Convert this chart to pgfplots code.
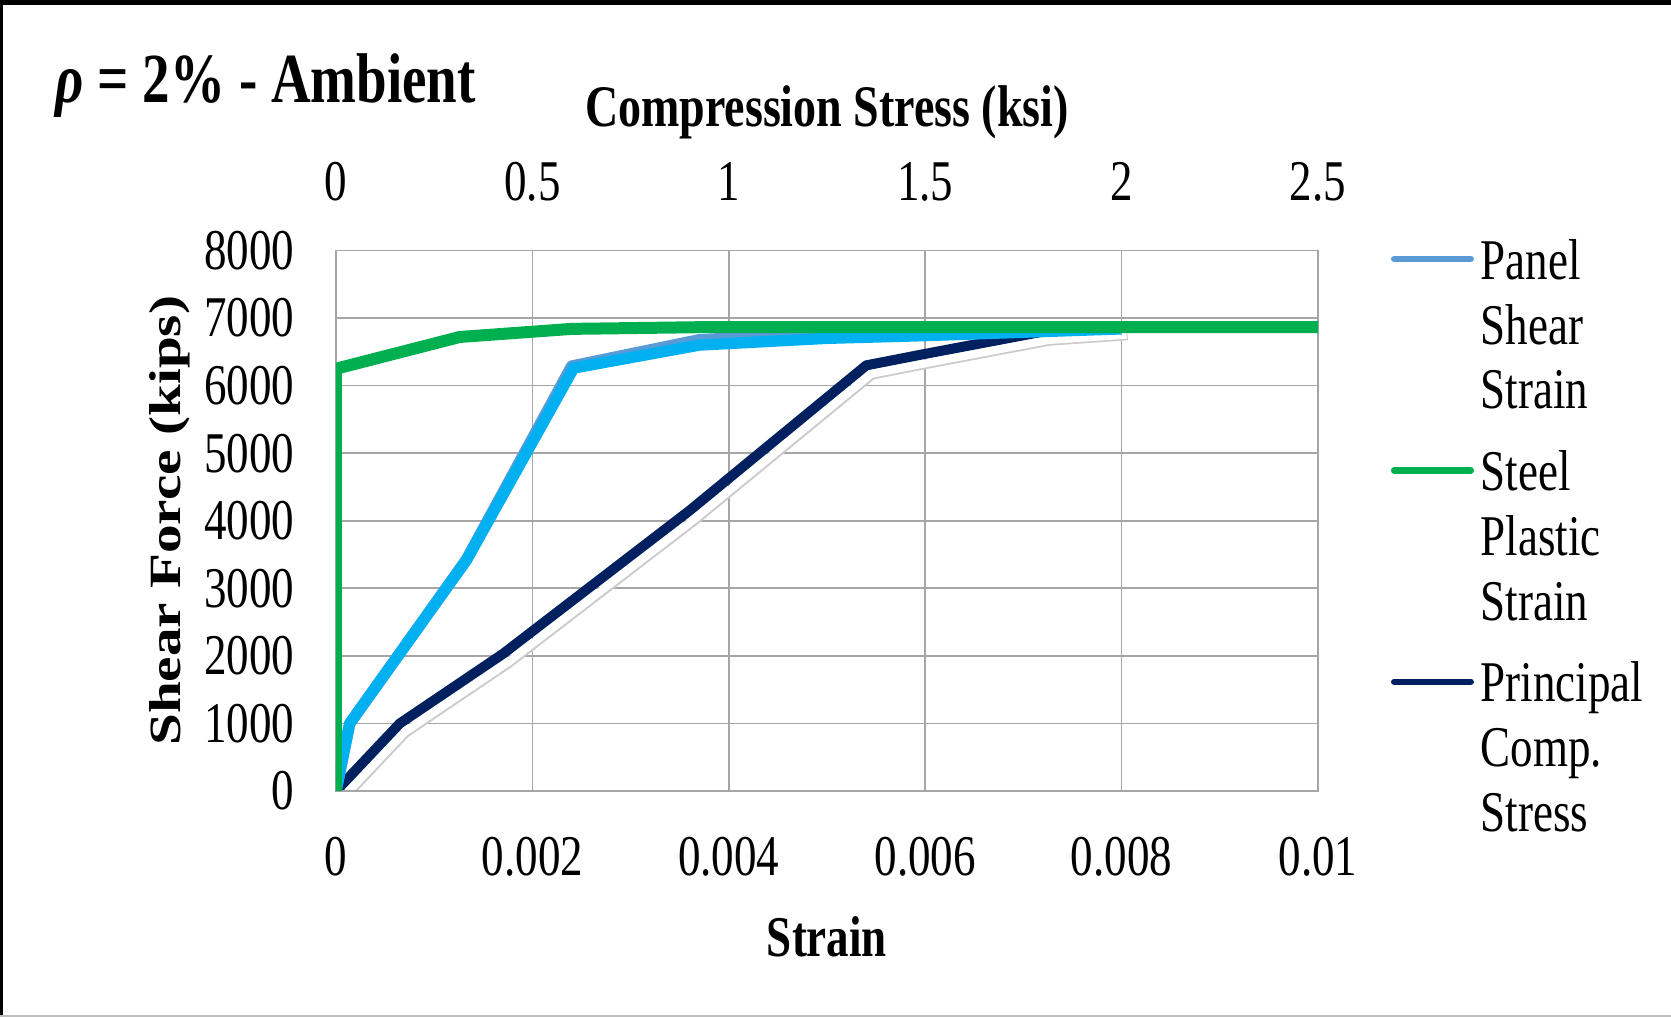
\documentclass[border=0pt]{standalone}
\usepackage{fontspec}
\setmainfont{Liberation Serif}
\usepackage{graphicx}
\usepackage{pgfplots}
\pgfplotsset{compat=1.18}

% the reference text is stretched vertically
\newcommand{\st}[1]{\scalebox{1}[1.28]{#1}}

\definecolor{panelblue}{HTML}{5B9BD5}
\definecolor{panelcyan}{HTML}{00B0F0}
\definecolor{steelgreen}{HTML}{00B050}
\definecolor{compnavy}{HTML}{002060}
\definecolor{gridgray}{HTML}{A6A6A6}

% strain, shear force (kips)
\pgfplotstableread{
x y
0 0
0.00014 1000
0.00133 3430
0.0024 6290
0.0037 6680
0.0048 6760
0.008 6850
}\panelblue

\pgfplotstableread{
x y
0 0
0.00014 1000
0.00133 3420
0.00242 6260
0.0037 6600
0.005 6700
0.006 6740
0.008 6840
}\panelcyan

\pgfplotstableread{
x y
0 0
0 6250
0.00126 6720
0.0024 6840
0.0037 6865
0.01 6865
}\steel

% compression stress (ksi), shear force (kips)
\pgfplotstableread{
x y
0 0
0.1625 1000
0.425 2030
0.9 4150
1.35 6300
1.5 6470
1.8 6800
2.0 6880
}\comp

\begin{document}
\begin{tikzpicture}

% frame
\fill[black] (-100.8pt,235.8pt) rectangle (400.5pt,237.3pt);
\fill[black] (-100.8pt,-67.8pt) rectangle (-99.9pt,237.3pt);
\fill[gray!50] (-100.8pt,-67.8pt) rectangle (400.5pt,-67.2pt);

% secondary axis (top): compression stress
\begin{axis}[
	name=top, at={(0,0)}, anchor=south west,
	scale only axis, width=294.6pt, height=162.15pt,
	xmin=0, xmax=2.5, ymin=0, ymax=8000,
	xtick={0,0.5,1,1.5,2,2.5},
	xticklabels={\st{0},\st{0.5},\st{1},\st{1.5},\st{2},\st{2.5}},
	xticklabel pos=upper,
	ytick={0,1000,...,8000}, yticklabels={},
	major tick length=0pt,
	xmajorgrids=true, ymajorgrids=true,
	grid style={gridgray, line width=0.5pt},
	axis line style={gridgray, line width=0.5pt},
	tick label style={font=\fontsize{13.5}{16}\selectfont, inner sep=0pt},
	xticklabel style={anchor=base, yshift=15.15pt},
	xlabel={\st{\textbf{Compression Stress (ksi)}}},
	xlabel style={at={(axis description cs:0.5,1)}, anchor=base, yshift=37.35pt, inner sep=0pt, font=\fontsize{13.8}{16}\selectfont},
]
\addplot[compnavy, line width=3pt, line join=round] table {\comp};
% shadowed white offset line
\addplot[gray!40, line width=2.7pt, line join=round, xshift=1.8pt, yshift=-2.9pt] table {\comp};
\addplot[white, line width=2.3pt, line join=round, xshift=1.5pt, yshift=-2.6pt] table {\comp};
\end{axis}

% primary axis: strain
\begin{axis}[
	name=main, at={(0,0)}, anchor=south west,
	scale only axis, width=294.6pt, height=162.15pt,
	xmin=0, xmax=0.01, ymin=0, ymax=8000,
	scaled x ticks=false, scaled y ticks=false,
	xtick={0,0.002,0.004,0.006,0.008,0.01},
	xticklabels={\st{0},\st{0.002},\st{0.004},\st{0.006},\st{0.008},\st{0.01}},
	ytick={0,1000,...,8000},
	yticklabels={\st{0},\st{1000},\st{2000},\st{3000},\st{4000},\st{5000},\st{6000},\st{7000},\st{8000}},
	major tick length=0pt,
	axis line style={gridgray, line width=0.5pt},
	tick label style={font=\fontsize{13.5}{16}\selectfont, inner sep=0pt},
	xticklabel style={anchor=base, yshift=-25.5pt},
	yticklabel style={anchor=east, xshift=-12.3pt},
	xlabel={\st{\textbf{Strain}}},
	xlabel style={at={(axis description cs:0.5,0)}, anchor=base, yshift=-49.5pt, inner sep=0pt, font=\fontsize{13.5}{16}\selectfont},
	ylabel={\scalebox{1.28}[1]{\textbf{Shear Force (kips)}}},
	ylabel style={at={(axis description cs:-0.1697,0.5)}, anchor=center, inner sep=0pt, font=\fontsize{13.4}{16}\selectfont},
	legend style={at={(axis description cs:1.0743,1.031)}, anchor=north west,
		draw=none, fill=none, inner sep=0pt, outer sep=0pt,
		nodes={inner sep=0pt, outer sep=0pt},
		row sep=48.3pt, column sep=2pt,
		font=\fontsize{13.5}{15.2}\selectfont},
	legend cell align=left,
	legend image code/.code={\draw[#1, line width=1.9pt, line cap=round] (0pt,0pt) -- (23pt,0pt);},
]
\addplot[panelblue, line width=3.4pt, line join=round] table {\panelblue};
\addlegendentry{\st{\begin{tabular}[t]{@{}l@{}}Panel\\Shear\\Strain\end{tabular}}}
\addplot[panelcyan, line width=3.4pt, line join=round, forget plot] table {\panelcyan};
\addplot[steelgreen, line width=3.6pt, line join=round] table {\steel};
\addlegendentry{\st{\begin{tabular}[t]{@{}l@{}}Steel\\Plastic\\Strain\end{tabular}}}
\addlegendimage{compnavy}
\addlegendentry{\st{\begin{tabular}[t]{@{}l@{}}Principal\\Comp.\\Stress\end{tabular}}}
\end{axis}

\node[anchor=base west, inner sep=0pt, font=\fontsize{16.5}{20}\selectfont\bfseries]
	at (-84.3pt,206.4pt) {\st{\textit{ρ} = 2\% - Ambient}};

\pgfresetboundingbox
\path[use as bounding box] (-100.8pt,-67.8pt) rectangle (400.5pt,237.3pt);
\end{tikzpicture}
\end{document}
